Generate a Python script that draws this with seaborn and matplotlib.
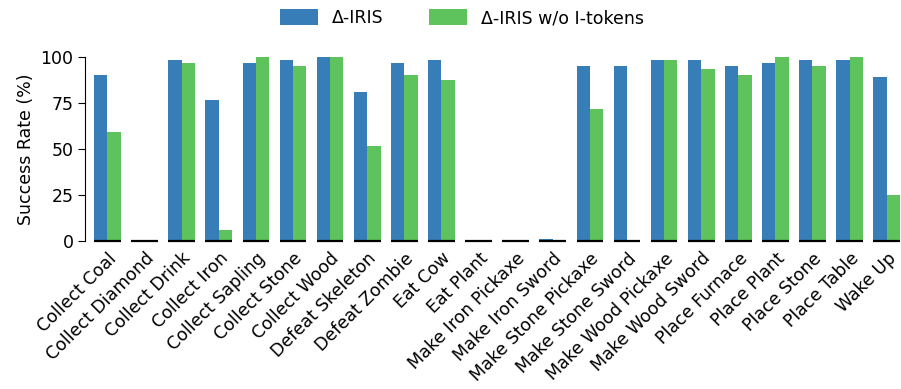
import matplotlib
matplotlib.use("Agg")
import matplotlib.pyplot as plt
import seaborn as sns
import pandas as pd

tasks = [
    "Collect Coal", "Collect Diamond", "Collect Drink", "Collect Iron",
    "Collect Sapling", "Collect Stone", "Collect Wood", "Defeat Skeleton",
    "Defeat Zombie", "Eat Cow", "Eat Plant", "Make Iron Pickaxe",
    "Make Iron Sword", "Make Stone Pickaxe", "Make Stone Sword",
    "Make Wood Pickaxe", "Make Wood Sword", "Place Furnace", "Place Plant",
    "Place Stone", "Place Table", "Wake Up",
]
delta_iris = [90.1, 0, 98.2, 76.5, 96.6, 98.2, 100, 80.8, 96.6, 98.2, 0, 0,
              1.0, 95.0, 95.0, 98.2, 98.2, 95.0, 96.6, 98.2, 98.2, 89.0]
no_itokens = [59.1, 0, 96.6, 6.0, 100, 95.0, 100, 51.5, 90.1, 87.4, 0, 0,
              0, 71.6, 0, 98.2, 93.3, 90.1, 100, 95.0, 100, 25.0]
series_names = ["Δ-IRIS", "Δ-IRIS w/o I-tokens"]
palette = ["#377eb8", "#5ec35c"]

df = pd.DataFrame({
    "Task": tasks * 2,
    "Success": delta_iris + no_itokens,
    "Model": [series_names[0]] * len(tasks) + [series_names[1]] * len(tasks),
})

sns.set_style("ticks")
plt.rcParams["font.family"] = ["DejaVu Sans"]
plt.rcParams.update({
    "text.color": "black", "axes.labelcolor": "black",
    "xtick.color": "black", "ytick.color": "black", "axes.edgecolor": "black",
})

fig = plt.figure(figsize=(9.01, 3.89), dpi=100)
ax = fig.add_axes([0.0946, 0.3805, 0.906, 0.4737])

sns.barplot(data=df, x="Task", y="Success", hue="Model", palette=palette,
            width=0.72, ax=ax, saturation=1, errorbar=None, linewidth=0)

# dark baseline under each task group
n = len(tasks)
bars = ax.patches[: 2 * n]
for i in range(n):
    grp = [bars[i], bars[i + n]]
    x0 = min(b.get_x() for b in grp)
    x1 = max(b.get_x() + b.get_width() for b in grp)
    ax.hlines(0, x0, x1, color="black", lw=1.6, clip_on=False, zorder=5)

ax.set_xlim(-0.6, n - 0.6)
ax.set_ylim(0, 100)
ax.set_yticks([0, 25, 50, 75, 100])
ax.set_xlabel("")
ax.set_ylabel("Success Rate (%)", fontsize=12.5)
ax.tick_params(axis="y", labelsize=12.5, length=5)
ax.tick_params(axis="x", labelsize=12.5, length=0, pad=6)
plt.setp(ax.get_xticklabels(), rotation=45, ha="right", rotation_mode="anchor")

sns.despine(ax=ax, bottom=True)
ax.spines["left"].set_bounds(0, 100)

handles, labels = ax.get_legend_handles_labels()
ax.legend_.remove()
fig.legend(handles, labels, loc="upper center", bbox_to_anchor=(0.513, 1.017),
           ncol=2, frameon=False, fontsize=12.5, handlelength=2.2,
           handleheight=1.0, columnspacing=2.6)

fig.savefig("out.png", dpi=100)
